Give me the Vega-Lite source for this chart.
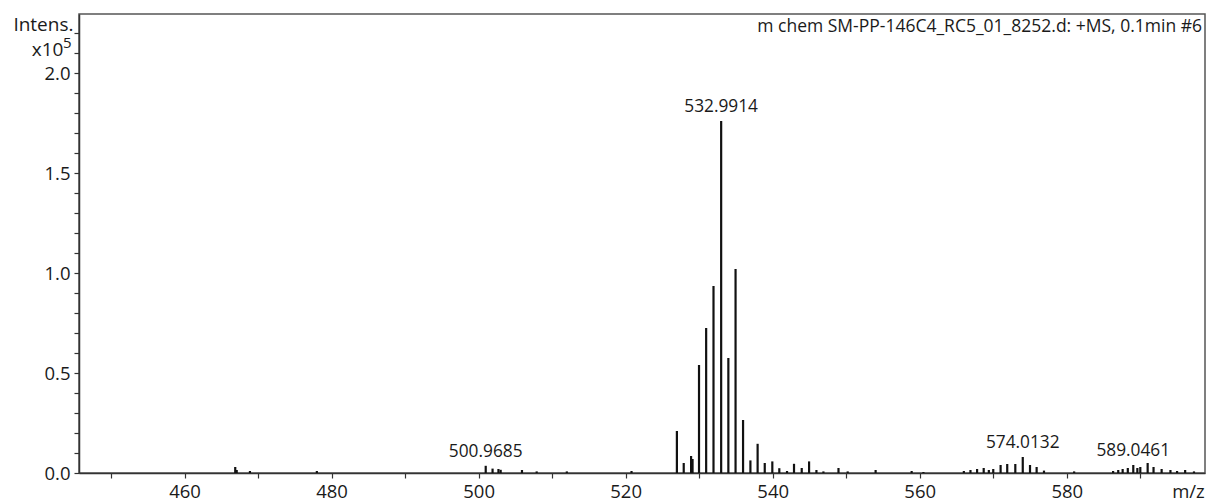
{
  "$schema": "https://vega.github.io/schema/vega-lite/v6.json",
  "autosize": {"type": "none"},
  "padding": {"left": 79, "top": 14, "right": 3, "bottom": 29},
  "width": 1126,
  "height": 459,
  "background": "white",
  "title": {
    "text": "m chem SM-PP-146C4_RC5_01_8252.d: +MS, 0.1min #6",
    "anchor": "end",
    "frame": "group",
    "orient": "top",
    "offset": -21,
    "dx": -3,
    "font": "Open Sans",
    "fontSize": 17.5,
    "fontWeight": "normal",
    "color": "#1a1a1a"
  },
  "config": {
    "view": {"stroke": "#555", "strokeWidth": 1.5},
    "font": "Open Sans",
    "axis": {
      "labelFont": "Open Sans",
      "titleFont": "Open Sans",
      "labelColor": "#1a1a1a",
      "titleColor": "#1a1a1a",
      "domainColor": "#333",
      "tickColor": "#333",
      "domainWidth": 1.5,
      "tickWidth": 1.2,
      "grid": false,
      "labelOverlap": false,
      "labelFlush": false
    }
  },
  "data": {
    "values": [
      {"mz": 466.9, "intensity": 0.03, "label": null},
      {"mz": 467.1, "intensity": 0.015, "label": null},
      {"mz": 468.9, "intensity": 0.01, "label": null},
      {"mz": 478.0, "intensity": 0.01, "label": null},
      {"mz": 500.9685, "intensity": 0.036, "label": "500.9685"},
      {"mz": 501.9, "intensity": 0.022, "label": null},
      {"mz": 502.7, "intensity": 0.02, "label": null},
      {"mz": 503.0, "intensity": 0.016, "label": null},
      {"mz": 505.9, "intensity": 0.015, "label": null},
      {"mz": 507.9, "intensity": 0.008, "label": null},
      {"mz": 512.0, "intensity": 0.008, "label": null},
      {"mz": 520.8, "intensity": 0.01, "label": null},
      {"mz": 526.97, "intensity": 0.21, "label": null},
      {"mz": 527.9, "intensity": 0.05, "label": null},
      {"mz": 528.9, "intensity": 0.085, "label": null},
      {"mz": 529.1, "intensity": 0.07, "label": null},
      {"mz": 529.98, "intensity": 0.54, "label": null},
      {"mz": 530.95, "intensity": 0.725, "label": null},
      {"mz": 531.95, "intensity": 0.935, "label": null},
      {"mz": 532.9914, "intensity": 1.76, "label": "532.9914"},
      {"mz": 533.97, "intensity": 0.575, "label": null},
      {"mz": 534.95, "intensity": 1.02, "label": null},
      {"mz": 535.97, "intensity": 0.265, "label": null},
      {"mz": 536.97, "intensity": 0.063, "label": null},
      {"mz": 537.95, "intensity": 0.146, "label": null},
      {"mz": 538.92, "intensity": 0.05, "label": null},
      {"mz": 539.95, "intensity": 0.058, "label": null},
      {"mz": 540.9, "intensity": 0.024, "label": null},
      {"mz": 541.95, "intensity": 0.01, "label": null},
      {"mz": 542.9, "intensity": 0.046, "label": null},
      {"mz": 543.95, "intensity": 0.025, "label": null},
      {"mz": 544.95, "intensity": 0.058, "label": null},
      {"mz": 545.95, "intensity": 0.015, "label": null},
      {"mz": 546.9, "intensity": 0.008, "label": null},
      {"mz": 548.95, "intensity": 0.025, "label": null},
      {"mz": 550.2, "intensity": 0.008, "label": null},
      {"mz": 554.0, "intensity": 0.015, "label": null},
      {"mz": 558.9, "intensity": 0.01, "label": null},
      {"mz": 560.5, "intensity": 0.005, "label": null},
      {"mz": 566.0, "intensity": 0.01, "label": null},
      {"mz": 566.9, "intensity": 0.015, "label": null},
      {"mz": 567.8, "intensity": 0.02, "label": null},
      {"mz": 568.7, "intensity": 0.025, "label": null},
      {"mz": 569.4, "intensity": 0.015, "label": null},
      {"mz": 570.0, "intensity": 0.02, "label": null},
      {"mz": 571.0, "intensity": 0.04, "label": null},
      {"mz": 571.9, "intensity": 0.045, "label": null},
      {"mz": 573.0, "intensity": 0.045, "label": null},
      {"mz": 574.0132, "intensity": 0.08, "label": "574.0132"},
      {"mz": 575.0, "intensity": 0.04, "label": null},
      {"mz": 575.9, "intensity": 0.03, "label": null},
      {"mz": 576.9, "intensity": 0.012, "label": null},
      {"mz": 581.0, "intensity": 0.008, "label": null},
      {"mz": 586.3, "intensity": 0.01, "label": null},
      {"mz": 587.0, "intensity": 0.015, "label": null},
      {"mz": 587.6, "intensity": 0.02, "label": null},
      {"mz": 588.3, "intensity": 0.025, "label": null},
      {"mz": 589.0461, "intensity": 0.04, "label": "589.0461"},
      {"mz": 589.6, "intensity": 0.025, "label": null},
      {"mz": 590.0, "intensity": 0.03, "label": null},
      {"mz": 591.0, "intensity": 0.05, "label": null},
      {"mz": 591.8, "intensity": 0.03, "label": null},
      {"mz": 592.9, "intensity": 0.02, "label": null},
      {"mz": 594.1, "intensity": 0.015, "label": null},
      {"mz": 595.0, "intensity": 0.01, "label": null},
      {"mz": 596.1, "intensity": 0.015, "label": null},
      {"mz": 597.3, "intensity": 0.008, "label": null}
    ]
  },
  "encoding": {
    "x": {
      "field": "mz",
      "type": "quantitative",
      "scale": {"domain": [445.65, 598.8], "nice": false, "zero": false},
      "axis": {
        "values": [450, 460, 470, 480, 490, 500, 510, 520, 530, 540, 550, 560, 570, 580, 590],
        "labelExpr": "datum.value % 20 == 0 ? datum.label : ''",
        "labelFontSize": 18.5,
        "labelPadding": 4,
        "tickSize": 5,
        "title": "m/z",
        "titleFontSize": 18.5,
        "titleFontWeight": "normal",
        "titleX": 1109,
        "titleY": 18,
        "titleBaseline": "middle",
        "titleAlign": "center"
      }
    }
  },
  "resolve": {"axis": {"y": "independent"}},
  "layer": [
    {
      "transform": [{"filter": "datum.intensity >= 0.2"}],
      "mark": {"type": "rule", "color": "#111", "strokeWidth": 2.2},
      "encoding": {
        "y": {
          "field": "intensity",
          "type": "quantitative",
          "scale": {"domain": [0, 2.295], "nice": false},
          "axis": {
            "orient": "left",
            "values": [0, 0.1, 0.2, 0.3, 0.4, 0.5, 0.6, 0.7, 0.8, 0.9, 1.0, 1.1, 1.2, 1.3, 1.4, 1.5, 1.6, 1.7, 1.8, 1.9, 2.0, 2.1, 2.2],
            "labelExpr": "round(datum.value * 10) % 5 == 0 ? format(datum.value, '.1f') : ''",
            "labelFontSize": 18.5,
            "labelPadding": 4,
            "tickSize": 5,
            "title": "Intens.",
            "titleFontSize": 19,
            "titleFontWeight": "normal",
            "titleAngle": 0,
            "titleAlign": "right",
            "titleBaseline": "alphabetic",
            "titleX": -6,
            "titleY": 16
          }
        },
        "y2": {"datum": 0}
      }
    },
    {
      "transform": [{"filter": "datum.intensity < 0.2"}],
      "mark": {"type": "rule", "color": "#111", "strokeWidth": 2.2},
      "encoding": {
        "y": {
          "field": "intensity",
          "type": "quantitative",
          "scale": {"domain": [0, 2.295], "nice": false},
          "axis": {
            "orient": "left",
            "labels": false,
            "ticks": false,
            "domain": false,
            "title": "x10",
            "titleFontSize": 19,
            "titleFontWeight": "normal",
            "titleAngle": 0,
            "titleAlign": "right",
            "titleBaseline": "alphabetic",
            "titleX": -16,
            "titleY": 41
          }
        },
        "y2": {"datum": 0}
      }
    },
    {
      "transform": [{"filter": "datum.label != null"}],
      "mark": {"type": "text", "baseline": "bottom", "dy": -5, "fontSize": 17.3, "font": "Open Sans", "color": "#1a1a1a"},
      "encoding": {
        "y": {
          "field": "intensity",
          "type": "quantitative",
          "scale": {"domain": [0, 2.295], "nice": false},
          "axis": {
            "orient": "left",
            "labels": false,
            "ticks": false,
            "domain": false,
            "title": "5",
            "titleFontSize": 15,
            "titleFontWeight": "normal",
            "titleAngle": 0,
            "titleAlign": "right",
            "titleBaseline": "alphabetic",
            "titleX": -8,
            "titleY": 33.5
          }
        },
        "text": {"field": "label"}
      }
    }
  ]
}
